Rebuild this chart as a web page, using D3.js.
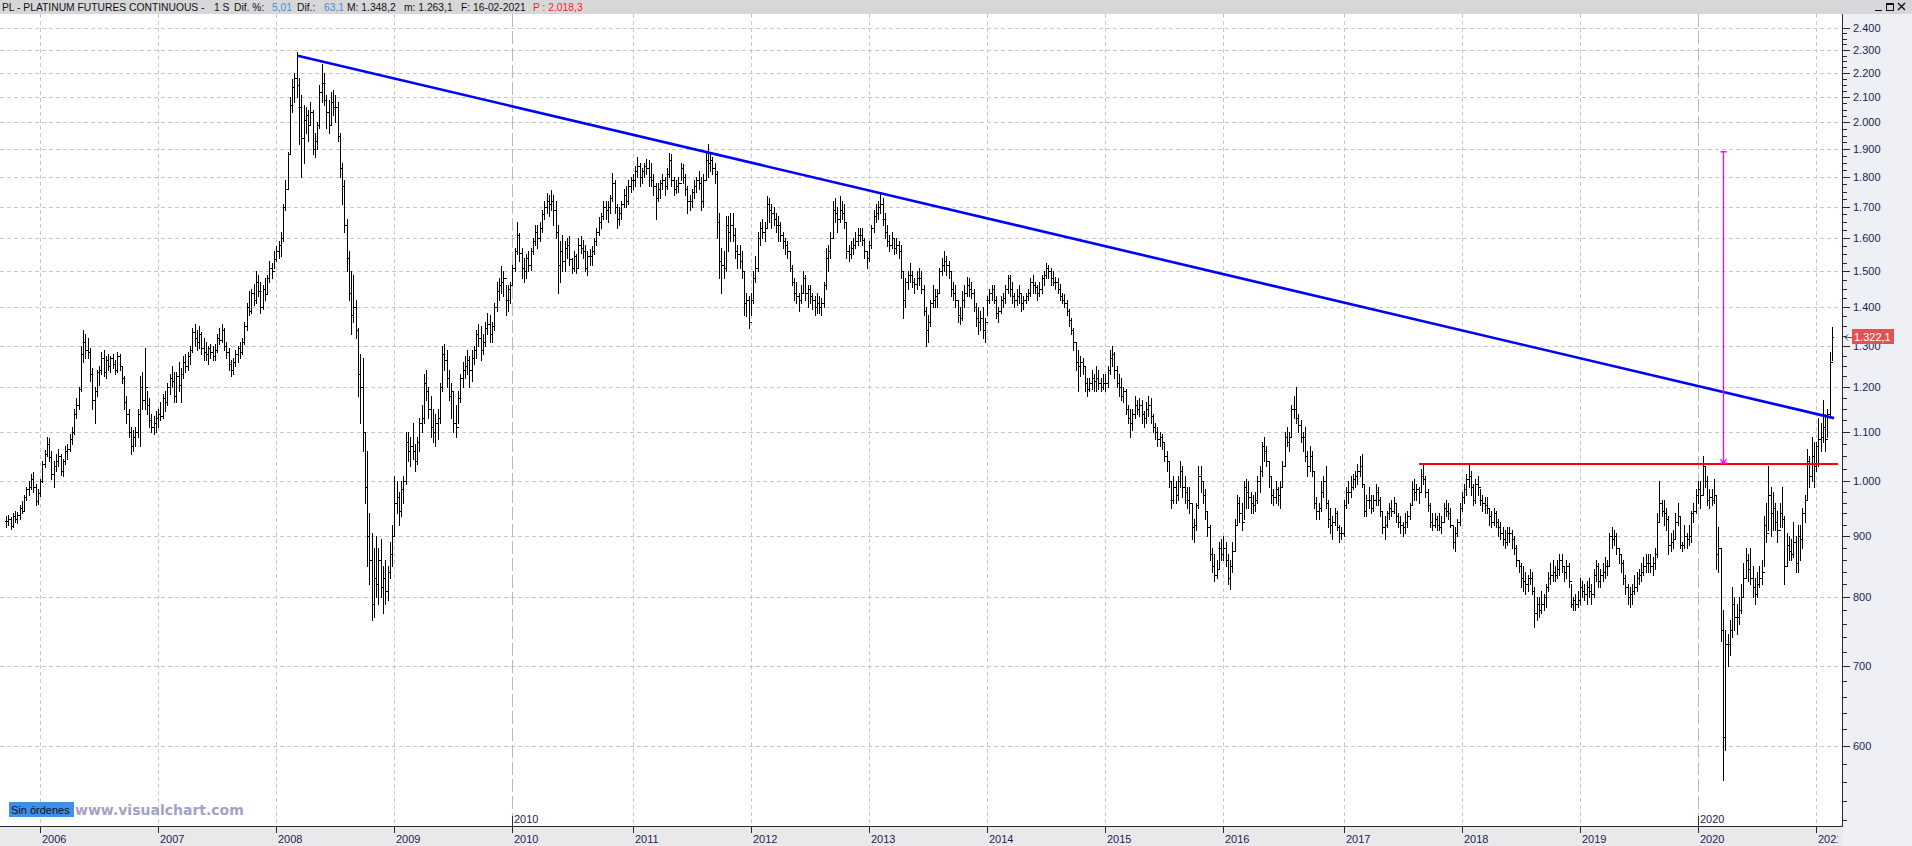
<!DOCTYPE html>
<html>
<head>
<meta charset="utf-8">
<script src="https://cdn.jsdelivr.net/npm/d3@7"></script>
<style>
  html, body { margin: 0; padding: 0; background: #fff; overflow: hidden; }
  svg { display: block; font-family: "Liberation Sans", Arial, sans-serif; }
</style>
</head>
<body>
<svg id="chart"></svg>
<script>
const width = 1912;
const height = 846;

// weekly bars, [high, low, close], one row per month
const bars2005 = [
  [935,915,926],[938,920,930],
  [934,912,918],[940,915,935],[945,925,930],[942,922,938],
  [955,930,950],[962,940,945],[975,945,970],[990,965,985],
  [1000,975,990],[1015,985,1005],[1018,980,990],[995,955,962],[985,958,978]
];
const bars2006 = [
  [1005,972,1000],[1040,998,1035],[1062,1028,1055],[1090,1050,1075],
  [1088,1040,1048],[1060,1005,1015],[1040,990,1030],[1055,1020,1040],
  [1065,1030,1050],[1055,1012,1020],[1045,1010,1040],[1070,1035,1060],[1075,1045,1065],
  [1095,1060,1085],[1110,1075,1100],[1150,1095,1140],[1175,1130,1160],
  [1200,1150,1195],[1300,1190,1280],[1340,1260,1310],[1330,1270,1290],
  [1320,1270,1285],[1295,1215,1230],[1245,1150,1170],[1200,1120,1190],[1240,1180,1235],
  [1250,1205,1240],[1285,1230,1270],[1290,1225,1235],[1275,1220,1265],
  [1280,1240,1250],[1275,1235,1270],[1280,1245,1255],[1265,1230,1240],
  [1285,1235,1275],[1280,1240,1250],[1250,1210,1220],[1225,1150,1165],[1180,1120,1140],
  [1150,1090,1100],[1110,1055,1070],[1105,1060,1090],[1110,1070,1100],
  [1150,1090,1140],[1225,1070,1200],[1235,1150,1170],[1295,1150,1200],
  [1190,1140,1160],[1175,1110,1125],[1140,1100,1110],[1135,1095,1120],[1145,1100,1130]
];
const bars2007 = [
  [1150,1110,1140],[1165,1125,1135],[1185,1130,1175],[1190,1145,1165],
  [1210,1160,1200],[1230,1185,1220],[1250,1200,1215],[1235,1165,1180],
  [1235,1165,1225],[1260,1190,1205],[1245,1165,1230],[1275,1220,1260],[1280,1235,1250],
  [1285,1240,1275],[1300,1255,1290],[1345,1285,1335],[1355,1300,1320],
  [1340,1290,1310],[1350,1295,1330],[1335,1280,1295],[1320,1265,1285],
  [1310,1265,1280],[1300,1255,1295],[1305,1270,1285],[1300,1265,1275],[1305,1265,1290],
  [1330,1285,1320],[1345,1305,1315],[1355,1310,1340],[1345,1290,1300],
  [1310,1270,1285],[1295,1240,1255],[1265,1225,1240],[1270,1230,1260],[1290,1250,1280],
  [1300,1260,1295],[1310,1270,1285],[1320,1280,1310],[1360,1305,1350],
  [1410,1340,1400],[1445,1380,1390],[1450,1385,1440],[1465,1405,1420],
  [1500,1410,1470],[1490,1430,1445],[1470,1385,1400],[1460,1395,1450],[1480,1420,1435],
  [1490,1440,1480],[1530,1470,1510],[1525,1480,1500],[1560,1510,1535]
];
const bars2008 = [
  [1575,1530,1560],[1590,1540,1580],[1620,1545,1600],[1710,1590,1700],
  [1790,1690,1760],[1890,1760,1880],[2100,1880,2070],[2175,2040,2140],[2200,2080,2180],
  [2290,2100,2150],[2180,1920,2060],[2110,1800,1940],[2070,1850,2010],
  [2060,1960,2030],[2050,1930,1990],[2080,1990,2040],[2050,1880,1900],
  [1960,1870,1930],[2000,1900,1990],[2150,1980,2120],[2240,2080,2160],[2200,2070,2090],
  [2110,1980,2040],[2090,1960,1990],[2120,1990,2080],[2130,2030,2060],
  [2110,2000,2060],[2080,1930,1950],[1960,1800,1830],[1850,1710,1770],
  [1790,1620,1640],[1660,1500,1540],[1560,1420,1440],[1500,1330,1380],[1490,1360,1400],
  [1420,1320,1340],[1345,1180,1230],[1280,1120,1200],[1270,1060,1100],
  [1100,960,990],[1060,850,900],[940,820,860],[905,765,790],[880,770,830],
  [900,800,820],[880,790,860],[895,800,815],[850,775,830],
  [860,790,810],[850,795,840],[890,830,870],[920,850,900]
];
const bars2009 = [
  [1010,900,960],[1000,940,970],[980,920,945],[1000,935,985],[1010,960,1000],
  [1100,995,1080],[1100,1040,1060],[1090,1030,1070],[1120,1045,1060],
  [1075,1020,1040],[1090,1035,1080],[1130,1060,1120],[1160,1100,1130],
  [1230,1120,1210],[1240,1170,1190],[1200,1130,1150],[1180,1090,1110],
  [1150,1080,1100],[1140,1070,1120],[1150,1085,1130],[1210,1120,1200],[1300,1190,1280],
  [1305,1240,1265],[1290,1200,1220],[1240,1170,1180],[1210,1130,1190],
  [1190,1100,1120],[1160,1090,1110],[1190,1120,1175],[1230,1165,1220],[1260,1200,1240],
  [1275,1220,1250],[1290,1230,1265],[1275,1200,1240],[1290,1215,1270],
  [1300,1255,1290],[1340,1270,1330],[1355,1300,1320],[1350,1265,1290],
  [1330,1280,1310],[1360,1300,1345],[1385,1330,1355],[1380,1310,1330],[1360,1310,1350],
  [1410,1340,1400],[1470,1390,1445],[1480,1420,1460],[1515,1440,1470],
  [1500,1430,1480],[1460,1380,1420],[1460,1390,1450],[1470,1410,1460]
];
const bars2010 = [
  [1520,1460,1510],[1570,1500,1560],[1650,1550,1610],[1615,1530,1555],[1570,1480,1510],
  [1540,1470,1500],[1550,1480,1540],[1560,1500,1520],[1570,1505,1560],
  [1600,1550,1590],[1640,1580,1620],[1640,1570,1600],[1650,1590,1630],
  [1690,1620,1675],[1720,1660,1700],[1745,1680,1720],[1740,1670,1710],[1755,1690,1720],
  [1740,1640,1690],[1720,1600,1620],[1640,1440,1520],[1590,1470,1560],
  [1610,1500,1530],[1590,1500,1570],[1600,1540,1580],[1605,1520,1535],
  [1540,1495,1510],[1560,1500,1545],[1550,1495,1510],[1600,1510,1580],[1605,1555,1570],
  [1595,1540,1560],[1580,1500,1510],[1560,1490,1545],[1565,1520,1545],
  [1575,1520,1560],[1600,1550,1590],[1630,1580,1620],[1665,1610,1650],
  [1680,1630,1670],[1720,1660,1700],[1720,1660,1690],[1720,1650,1700],[1740,1680,1730],
  [1815,1720,1780],[1790,1680,1700],[1710,1630,1660],[1700,1640,1680],
  [1720,1660,1710],[1760,1700,1740],[1770,1700,1720],[1790,1710,1770],[1800,1750,1790]
];
const bars2011 = [
  [1810,1760,1790],[1840,1770,1820],[1870,1800,1840],[1850,1770,1800],
  [1830,1780,1820],[1850,1800,1840],[1865,1810,1830],[1860,1770,1800],
  [1850,1770,1790],[1810,1740,1770],[1780,1660,1730],[1780,1720,1760],
  [1790,1730,1780],[1810,1760,1790],[1800,1740,1770],[1830,1760,1810],[1885,1800,1860],
  [1880,1770,1790],[1800,1740,1760],[1790,1745,1770],[1800,1750,1780],
  [1850,1790,1830],[1845,1780,1800],[1810,1740,1760],[1770,1680,1720],
  [1740,1690,1720],[1760,1700,1750],[1790,1730,1770],[1800,1750,1790],[1820,1760,1780],
  [1800,1690,1720],[1810,1700,1790],[1890,1790,1860],[1920,1800,1850],
  [1880,1820,1860],[1870,1810,1830],[1850,1780,1810],[1820,1600,1650],[1680,1480,1530],
  [1570,1440,1520],[1560,1480,1510],[1670,1500,1640],[1670,1560,1620],
  [1680,1590,1640],[1680,1590,1610],[1630,1540,1560],[1580,1510,1550],
  [1580,1510,1530],[1560,1480,1500],[1500,1380,1410],[1440,1375,1420],[1430,1345,1360]
];
const bars2012 = [
  [1440,1380,1420],[1500,1410,1480],[1545,1470,1510],[1620,1500,1600],
  [1650,1580,1630],[1660,1600,1620],[1650,1590,1630],[1735,1630,1710],
  [1730,1650,1690],[1710,1630,1680],[1700,1640,1660],[1680,1620,1640],[1670,1590,1640],
  [1650,1590,1610],[1620,1570,1590],[1600,1550,1580],[1590,1540,1560],
  [1560,1500,1510],[1520,1460,1470],[1480,1420,1440],[1470,1410,1430],
  [1440,1390,1420],[1460,1410,1440],[1500,1440,1480],[1490,1420,1440],[1460,1400,1450],
  [1460,1410,1430],[1440,1395,1420],[1430,1380,1400],[1440,1385,1410],
  [1430,1385,1400],[1425,1380,1410],[1470,1400,1460],[1570,1450,1540],[1580,1500,1560],
  [1620,1540,1600],[1720,1600,1690],[1730,1650,1680],[1700,1620,1660],
  [1735,1650,1690],[1720,1660,1680],[1710,1630,1650],[1650,1540,1560],
  [1580,1530,1550],[1590,1540,1570],[1600,1550,1580],[1620,1570,1590],[1630,1580,1610],
  [1630,1590,1610],[1630,1580,1595],[1600,1540,1560],[1560,1510,1540]
];
const bars2013 = [
  [1590,1530,1580],[1640,1570,1630],[1690,1620,1670],[1710,1650,1680],
  [1720,1660,1700],[1745,1680,1710],[1730,1640,1660],[1680,1600,1620],
  [1640,1575,1590],[1610,1560,1580],[1620,1570,1600],[1600,1550,1570],[1600,1555,1580],
  [1590,1540,1560],[1580,1480,1500],[1500,1370,1420],[1480,1400,1470],
  [1500,1450,1490],[1525,1470,1490],[1500,1455,1470],[1480,1440,1465],[1500,1450,1480],
  [1510,1460,1480],[1500,1440,1450],[1460,1380,1390],[1400,1300,1340],
  [1380,1310,1360],[1420,1350,1410],[1460,1400,1420],[1450,1400,1430],
  [1450,1400,1440],[1510,1440,1500],[1540,1490,1520],[1560,1500,1530],[1545,1490,1520],
  [1530,1480,1500],[1500,1430,1450],[1470,1420,1440],[1460,1400,1420],
  [1420,1360,1380],[1400,1355,1370],[1445,1365,1420],[1460,1400,1440],
  [1485,1430,1460],[1480,1430,1450],[1470,1425,1440],[1450,1390,1400],[1410,1350,1370],
  [1400,1330,1360],[1390,1340,1370],[1400,1320,1340],[1370,1310,1360]
];
const bars2014 = [
  [1430,1380,1420],[1450,1410,1440],[1460,1420,1450],[1460,1410,1420],[1430,1370,1385],
  [1400,1360,1390],[1430,1385,1420],[1440,1400,1425],[1460,1410,1450],
  [1490,1440,1480],[1490,1430,1450],[1470,1410,1430],[1440,1400,1420],
  [1450,1405,1430],[1460,1410,1440],[1440,1390,1410],[1430,1395,1420],
  [1440,1410,1430],[1450,1420,1440],[1480,1430,1470],[1490,1440,1460],[1470,1440,1455],
  [1460,1420,1440],[1470,1430,1450],[1490,1440,1480],[1500,1460,1490],
  [1525,1480,1510],[1520,1480,1500],[1510,1460,1480],[1500,1460,1470],
  [1485,1450,1470],[1480,1440,1450],[1465,1420,1430],[1440,1410,1420],[1435,1400,1410],
  [1420,1380,1390],[1395,1350,1365],[1370,1330,1340],[1345,1290,1310],
  [1310,1240,1260],[1290,1190,1250],[1275,1225,1260],[1270,1230,1250],[1250,1190,1210],
  [1220,1180,1195],[1220,1190,1210],[1240,1195,1220],[1230,1190,1215],
  [1250,1190,1220],[1240,1195,1210],[1220,1190,1200],[1230,1195,1210]
];
const bars2015 = [
  [1230,1190,1210],[1250,1200,1240],[1290,1230,1270],[1300,1250,1280],[1285,1220,1240],
  [1250,1200,1210],[1230,1180,1200],[1220,1170,1180],[1200,1165,1190],
  [1195,1140,1150],[1160,1120,1130],[1150,1090,1120],[1150,1105,1140],
  [1180,1130,1160],[1170,1140,1150],[1175,1135,1160],[1170,1120,1140],
  [1145,1110,1130],[1165,1120,1150],[1180,1135,1160],[1175,1120,1135],[1140,1100,1110],
  [1120,1085,1100],[1110,1070,1085],[1100,1070,1090],[1095,1065,1080],
  [1080,1040,1050],[1060,1020,1040],[1040,990,1000],[1000,950,965],[1010,960,990],
  [1000,960,975],[1010,965,1000],[1040,990,1020],[1030,970,990],
  [1010,960,980],[990,950,965],[990,940,960],[960,895,915],
  [930,890,920],[960,910,955],[1030,950,1010],[1030,980,1000],[1000,960,975],
  [985,930,945],[945,900,915],[920,860,870],[880,840,850],
  [870,825,835],[860,830,845],[890,845,880],[895,860,870]
];
const bars2016 = [
  [900,860,880],[890,850,860],[870,820,830],[860,812,850],[890,840,875],
  [930,875,920],[975,920,960],[970,925,940],[960,910,925],
  [1000,930,990],[1005,950,980],[1000,950,970],[980,940,960],
  [975,940,955],[980,945,965],[1010,960,1000],[1030,980,1020],[1080,1010,1070],
  [1090,1040,1060],[1070,1030,1040],[1040,990,1010],[1010,960,975],
  [985,955,970],[1000,960,985],[990,955,975],[1000,950,990],
  [1040,990,1030],[1100,1030,1090],[1110,1070,1080],[1100,1060,1090],[1160,1090,1150],
  [1180,1130,1150],[1200,1120,1130],[1140,1100,1115],[1125,1080,1090],
  [1100,1060,1090],[1110,1040,1050],[1060,1010,1030],[1070,1020,1050],[1060,1010,1020],
  [1020,950,960],[970,930,945],[960,930,950],[1000,945,980],
  [1010,970,1000],[1030,950,960],[965,915,930],[950,905,920],
  [935,895,925],[950,920,940],[945,910,915],[920,890,905],[915,895,905]
];
const bars2017 = [
  [965,900,955],[990,950,980],[1000,960,980],[1010,970,990],
  [1015,985,1005],[1020,990,1010],[1035,995,1020],[1050,1010,1030],
  [1055,990,995],[995,935,945],[975,935,965],[990,950,965],[975,940,950],
  [975,945,965],[995,955,980],[990,955,965],[970,935,945],
  [945,905,915],[935,895,920],[945,915,940],[960,930,950],
  [965,935,945],[970,940,960],[960,925,935],[940,915,925],[935,905,920],
  [925,900,915],[940,905,925],[945,915,935],[960,930,955],
  [1000,955,985],[1005,965,980],[995,965,985],[990,960,980],
  [1025,980,1010],[1035,995,1005],[1010,970,980],[985,945,955],[960,915,925],
  [940,910,920],[940,915,930],[935,910,920],[940,910,915],
  [935,905,925],[960,925,950],[965,935,945],[960,930,940],
  [950,915,920],[920,880,890],[915,875,905],[930,900,925],[960,920,950]
];
const bars2018 = [
  [980,945,970],[995,960,985],[1015,975,1005],[1035,990,1010],
  [1020,975,990],[995,955,965],[1005,960,995],[1010,975,990],
  [985,955,965],[975,945,960],[970,940,955],[970,940,950],[950,920,935],
  [945,915,925],[950,920,940],[945,915,925],[930,900,915],
  [925,895,905],[915,885,895],[910,880,890],[915,885,905],
  [915,890,905],[910,880,895],[900,870,880],[885,850,860],[860,840,850],
  [855,815,830],[850,810,825],[840,805,820],[835,810,830],
  [845,820,830],[840,805,810],[815,755,775],[800,765,790],[800,770,780],
  [810,775,790],[805,780,800],[820,785,815],[840,810,830],
  [855,820,835],[860,825,840],[850,825,835],[860,830,845],
  [870,835,860],[870,840,850],[850,825,840],[860,830,850],[855,815,825],
  [820,785,790],[800,780,795],[805,780,790],[810,785,795]
];
const bars2019 = [
  [830,790,815],[825,800,810],[820,795,805],[825,790,815],
  [830,800,810],[820,790,805],[845,800,835],[860,825,850],
  [855,815,825],[845,815,835],[855,825,840],[865,830,850],[860,835,850],
  [905,850,900],[915,880,895],[910,885,900],[905,870,880],
  [880,855,870],[870,840,855],[860,820,830],[835,805,815],[820,790,800],
  [815,785,805],[820,790,810],[835,805,815],[840,810,830],
  [845,820,835],[855,825,840],[865,835,850],[870,840,855],
  [870,840,855],[870,840,850],[865,835,855],[880,845,870],[940,865,925],
  [1000,925,960],[965,935,945],[965,920,940],[950,910,930],
  [935,870,885],[905,875,890],[910,880,895],[940,895,925],
  [960,920,935],[935,880,885],[890,875,885],[920,880,900],[905,880,895],
  [920,885,900],[945,890,940],[960,925,945],[985,940,975]
];
const bars2020 = [
  [1000,960,985],[1000,950,975],[1050,975,1030],[1030,990,1000],[1010,955,965],
  [985,950,970],[985,955,965],[1005,960,975],[975,845,870],
  [915,840,880],[880,735,750],[780,562,610],[750,595,730],
  [745,700,730],[765,715,750],[815,740,790],[800,750,770],
  [790,745,770],[800,760,780],[820,775,800],[855,800,830],[880,830,860],
  [870,825,845],[880,820,830],[850,800,815],[830,790,805],
  [840,800,820],[850,815,830],[860,820,840],[935,850,920],[960,890,905],
  [1030,910,975],[990,900,940],[980,910,950],[960,910,925],
  [945,890,910],[960,915,940],[990,915,930],[935,820,850],
  [905,850,885],[900,860,875],[895,860,870],[925,865,890],[900,840,855],
  [920,840,900],[920,860,895],[950,880,940],[975,925,965],
  [1065,965,1040],[1050,990,1010],[1090,1000,1050],[1080,990,1030]
];
const bars2021 = [
  [1080,1020,1070],[1130,1030,1085],[1120,1060,1090],[1170,1080,1110],[1140,1060,1085],
  [1150,1090,1140],[1285,1135,1259],[1348.2,1263.1,1322.1]
];

const years = [2005, 2006, 2007, 2008, 2009, 2010, 2011, 2012, 2013, 2014, 2015, 2016, 2017, 2018, 2019, 2020, 2021];
const barsByYear = [bars2005, bars2006, bars2007, bars2008, bars2009, bars2010, bars2011, bars2012,
  bars2013, bars2014, bars2015, bars2016, bars2017, bars2018, bars2019, bars2020, bars2021];

const priceTicks = [600, 700, 800, 900, 1000, 1100, 1200, 1300, 1400, 1500, 1600, 1700, 1800, 1900, 2000, 2100, 2200, 2300, 2400];
const yearLabels = ["2006", "2007", "2008", "2009", "2010", "2011", "2012", "2013", "2014", "2015", "2016", "2017", "2018", "2019", "2020", "2021"];
const decadeLabels = ["2010", "2020"];

// drawn studies: [year, week of that year, price]
const trendLine = [[2008, 9, 2275], [2021, 7, 1130]];
const supportLine = [[2017, 33, 1034], [2021, 7, 1034]];
const measureLine = [[2020, 11, 1034], [2020, 11, 1890]];
const lastPrice = 1322.1;

// header pieces: text, colour, left x
const headParts = [
  ["PL - PLATINUM FUTURES CONTINUOUS -", "#111", 2],
  ["1 S", "#111", 214],
  ["Dif. %:", "#111", 234],
  ["5,01", "#3f8fe0", 272],
  ["Dif.:", "#111", 297],
  ["63,1", "#3f8fe0", 324],
  ["M: 1.348,2", "#111", 347],
  ["m: 1.263,1", "#111", 404],
  ["F: 16-02-2021", "#111", 461],
  ["P : 2.018,3", "#ff1a1a", 533]
];

// flatten
const bars = [];
barsByYear.forEach((arr, k) => arr.forEach((b, j) => {
  bars.push({ year: years[k], week: j, high: b[0], low: b[1], close: b[2] });
}));
bars.forEach((b, i) => { b.i = i; b.open = i > 0 ? bars[i - 1].close : b.close; });
const barIndex = (yr, wk) => bars.findIndex(b => b.year === yr && b.week === wk);

const plotRight = 1842, plotTop = 14, plotBottom = 826;

const x = d3.scaleLinear().domain([0, bars.length - 1]).range([6, 1832]);
const y = d3.scaleLog().domain([600, 2400]).range([746, 28]);

const loc = d3.formatLocale({ decimal: ",", thousands: ".", grouping: [3], currency: ["", ""] });
const fmtInt = loc.format(",d");
const fmtDec = loc.format(",.1f");

const svg = d3.select("#chart")
  .attr("width", width)
  .attr("height", height)
  .attr("viewBox", `0 0 ${width} ${height}`);

const defs = svg.append("defs");
defs.append("clipPath").attr("id", "plotClip")
  .append("rect").attr("x", 0).attr("y", plotTop).attr("width", plotRight).attr("height", plotBottom - plotTop);
defs.append("clipPath").attr("id", "axisClip")
  .append("rect").attr("x", 0).attr("y", plotBottom).attr("width", plotRight - 4).attr("height", height - plotBottom);

svg.append("rect").attr("width", width).attr("height", height).attr("fill", "#fff");

// year starts
const yearStart = yearLabels.map(l => bars.findIndex(b => b.year === +l));
const px = i => Math.round(x(i)) + 0.5;

// grid
const grid = svg.append("g").attr("clip-path", "url(#plotClip)").attr("shape-rendering", "crispEdges");
grid.selectAll("line.h").data(priceTicks).enter().append("line")
  .attr("x1", 0).attr("x2", plotRight)
  .attr("y1", d => Math.round(y(d)) + 0.5).attr("y2", d => Math.round(y(d)) + 0.5)
  .attr("stroke", "#c8c8c8").attr("stroke-dasharray", "4,3");
grid.selectAll("line.v").data(yearLabels).enter().append("line")
  .attr("x1", (d, k) => px(yearStart[k])).attr("x2", (d, k) => px(yearStart[k]))
  .attr("y1", plotTop).attr("y2", plotBottom)
  .attr("stroke", d => decadeLabels.includes(d) ? "#b8b8b8" : "#c8c8c8")
  .attr("stroke-dasharray", d => decadeLabels.includes(d) ? "13,4" : "4,3");

// OHLC bars
let dPath = "";
bars.forEach(b => {
  const cx = px(b.i);
  const yh = Math.round(y(b.high)), yl = Math.round(y(b.low)) + 1;
  const yo = Math.round(y(b.open)) + 0.5, yc = Math.round(y(b.close)) + 0.5;
  dPath += `M${cx},${yh}V${yl}M${cx - 1.5},${yo}H${cx}M${cx},${yc}H${cx + 1.5}`;
});
svg.append("g").attr("clip-path", "url(#plotClip)")
  .append("path").attr("d", dPath).attr("fill", "none").attr("stroke", "#000")
  .attr("stroke-width", 1).attr("shape-rendering", "crispEdges");

// studies
const studies = svg.append("g").attr("clip-path", "url(#plotClip)");
const pt = p => [x(barIndex(p[0], p[1])), y(p[2])];
const t0 = pt(trendLine[0]), t1 = pt(trendLine[1]);
studies.append("line")
  .attr("x1", t0[0] + 1).attr("y1", t0[1]).attr("x2", t1[0] + 2).attr("y2", t1[1])
  .attr("stroke", "#0000ff").attr("stroke-width", 2.6);
const s0 = pt(supportLine[0]), s1 = pt(supportLine[1]);
studies.append("line")
  .attr("x1", s0[0]).attr("y1", s0[1]).attr("x2", s1[0] + 6).attr("y2", s1[1])
  .attr("stroke", "#ff0000").attr("stroke-width", 2.4).attr("shape-rendering", "crispEdges");
const m0 = pt(measureLine[0]), m1 = pt(measureLine[1]);
const mx = Math.round(m0[0]) + 0.5;
studies.append("path")
  .attr("d", `M${mx},${m1[1]}V${m0[1]}M${mx - 3},${m1[1]}H${mx + 3}M${mx - 4},${m0[1] - 1}H${mx + 4}M${mx - 3},${m0[1] - 5}L${mx},${m0[1] - 1}L${mx + 3},${m0[1] - 5}`)
  .attr("fill", "none").attr("stroke", "#ff00ff").attr("stroke-width", 1.3);

// right axis panel
svg.append("rect").attr("x", plotRight + 1).attr("y", plotTop).attr("width", width - plotRight - 1).attr("height", height - plotTop)
  .attr("fill", "#eff0f5");
const yAxis = svg.append("g").attr("shape-rendering", "crispEdges");
yAxis.append("line").attr("x1", plotRight + 0.5).attr("x2", plotRight + 0.5).attr("y1", plotTop).attr("y2", plotBottom + 1)
  .attr("stroke", "#2b2b2b");
const minor = [];
priceTicks.slice(0, -1).forEach((v, k) => {
  const step = v < 1000 ? 20 : 25;
  for (let m = v + step; m < priceTicks[k + 1]; m += step) minor.push(m);
});
minor.push(520, 540, 560, 580);
yAxis.selectAll("line.minor").data(minor.filter(v => y(v) > plotTop && y(v) < plotBottom)).enter().append("line")
  .attr("x1", plotRight).attr("x2", plotRight + 5)
  .attr("y1", d => Math.round(y(d)) + 0.5).attr("y2", d => Math.round(y(d)) + 0.5)
  .attr("stroke", "#2b2b2b");
yAxis.selectAll("line.major").data(priceTicks).enter().append("line")
  .attr("x1", plotRight).attr("x2", plotRight + 8)
  .attr("y1", d => Math.round(y(d)) + 0.5).attr("y2", d => Math.round(y(d)) + 0.5)
  .attr("stroke", "#2b2b2b");
svg.append("g").selectAll("text").data(priceTicks).enter().append("text")
  .attr("x", 1853).attr("y", d => y(d) + 4)
  .attr("font-size", 11).attr("fill", "#1d1d4d")
  .text(d => fmtInt(d));

// last price marker
const yl = Math.round(y(lastPrice));
svg.append("rect").attr("x", 1852).attr("y", yl - 8).attr("width", 42).attr("height", 15).attr("fill", "#e35252");
svg.append("text").attr("x", 1854).attr("y", yl + 4).attr("font-size", 11).attr("fill", "#fff").text(fmtDec(lastPrice));
svg.append("path").attr("d", `M1852,${yl + 0.5}H1845M1848,${yl - 2.5}L1845,${yl + 0.5}L1848,${yl + 3.5}`)
  .attr("fill", "none").attr("stroke", "#555").attr("stroke-width", 1);

// bottom time axis
svg.append("rect").attr("x", 0).attr("y", plotBottom).attr("width", plotRight + 1).attr("height", height - plotBottom)
  .attr("fill", "#e9e9ec");
svg.append("line").attr("x1", 0).attr("x2", plotRight + 1).attr("y1", plotBottom + 0.5).attr("y2", plotBottom + 0.5)
  .attr("stroke", "#2b2b2b").attr("shape-rendering", "crispEdges");
const xAxis = svg.append("g").attr("clip-path", "url(#axisClip)");
xAxis.selectAll("line").data(yearLabels).enter().append("line")
  .attr("x1", (d, k) => px(yearStart[k])).attr("x2", (d, k) => px(yearStart[k]))
  .attr("y1", plotBottom).attr("y2", plotBottom + 7)
  .attr("stroke", "#2b2b2b").attr("shape-rendering", "crispEdges");
xAxis.selectAll("text").data(yearLabels).enter().append("text")
  .attr("x", (d, k) => px(yearStart[k]) + 1.5).attr("y", 843)
  .attr("font-size", 11).attr("fill", "#1d1d4d")
  .text(d => d);

// decade marks above the axis
const dec = svg.append("g");
decadeLabels.forEach(l => {
  const xi = px(yearStart[yearLabels.indexOf(l)]);
  dec.append("line").attr("x1", xi).attr("x2", xi).attr("y1", 816).attr("y2", plotBottom)
    .attr("stroke", "#2b2b2b").attr("shape-rendering", "crispEdges");
  dec.append("text").attr("x", xi + 1.5).attr("y", 823).attr("font-size", 11).attr("fill", "#1d1d4d").text(l);
});

// status box and watermark
svg.append("rect").attr("x", 9).attr("y", 802).attr("width", 65).attr("height", 15).attr("fill", "#3d8fe8");
svg.append("text").attr("x", 11).attr("y", 814).attr("font-size", 11).attr("fill", "#111").text("Sin órdenes");
svg.append("text").attr("x", 75).attr("y", 815).attr("font-size", 14).attr("font-weight", "bold")
  .attr("font-family", "'DejaVu Sans', Verdana, sans-serif")
  .attr("fill", "#a2a2c6").text("www.visualchart.com");

// header bar
svg.append("rect").attr("x", 0).attr("y", 0).attr("width", width).attr("height", 14).attr("fill", "#d7d7d9");
svg.append("g").selectAll("text").data(headParts).enter().append("text")
  .attr("x", d => d[2]).attr("y", 11).attr("font-size", 10.3)
  .attr("fill", d => d[1]).text(d => d[0]);

// window buttons
const wb = svg.append("g").attr("stroke", "#111").attr("fill", "none").attr("shape-rendering", "crispEdges");
wb.append("line").attr("x1", 1875).attr("x2", 1882).attr("y1", 10.5).attr("y2", 10.5);
wb.append("rect").attr("x", 1886.5).attr("y", 3.5).attr("width", 7).attr("height", 7);
wb.append("line").attr("x1", 1886).attr("x2", 1894).attr("y1", 4.5).attr("y2", 4.5);
wb.append("path").attr("d", "M1898,3L1905,10M1905,3L1898,10").attr("shape-rendering", "auto").attr("stroke-width", 1.4);
</script>
</body>
</html>
